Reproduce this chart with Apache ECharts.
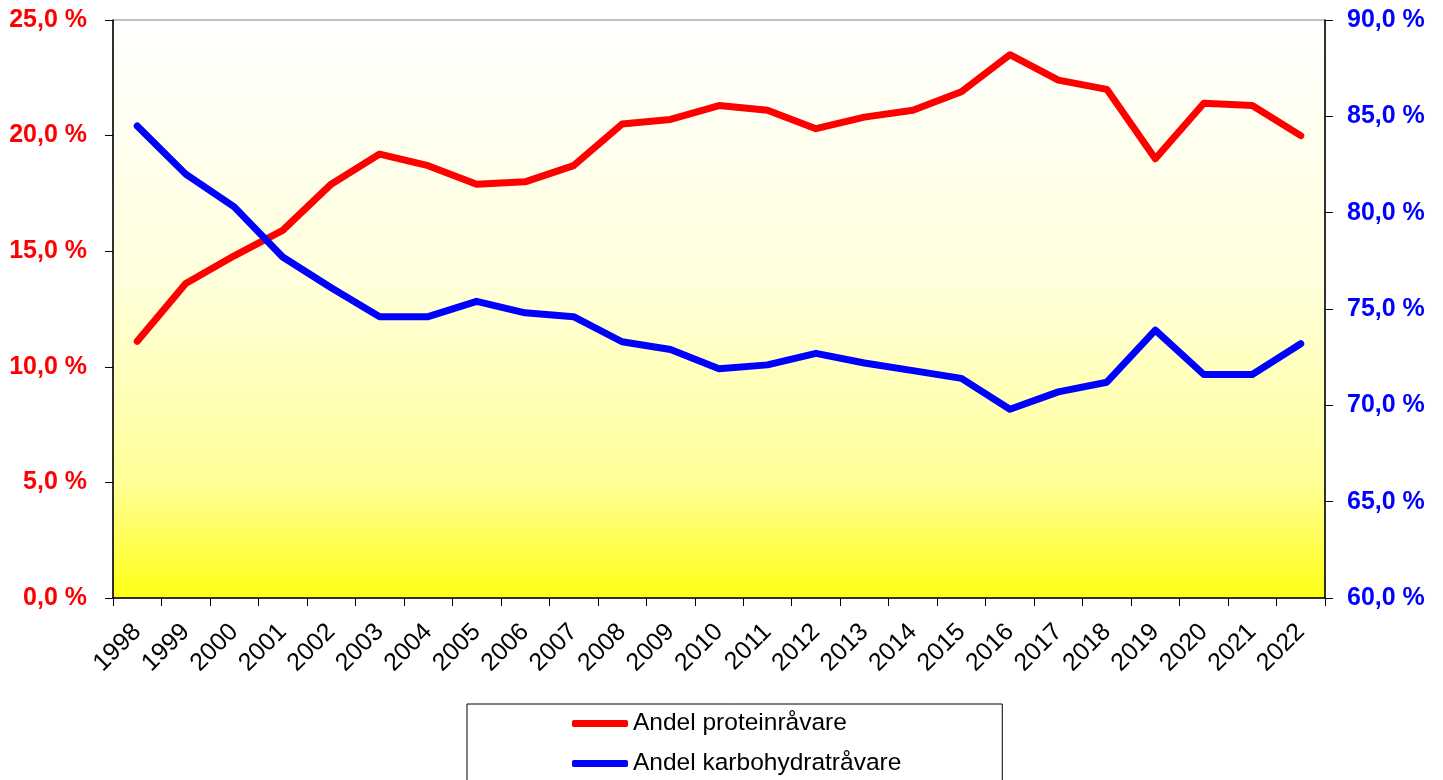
<!DOCTYPE html>
<html>
<head>
<meta charset="UTF-8">
<title>Andel råvarer</title>
<script src="https://cdn.jsdelivr.net/npm/echarts@6/dist/echarts.min.js"></script>
<style>
  html, body { margin: 0; padding: 0; background: #fff; }
  #main { width: 1443px; height: 780px; }
</style>
</head>
<body>
<div id="main"></div>
<script type="text/javascript">
// årstall på x-aksen
const years = ['1998', '1999', '2000', '2001', '2002', '2003', '2004', '2005', '2006', '2007',
  '2008', '2009', '2010', '2011', '2012', '2013', '2014', '2015', '2016', '2017',
  '2018', '2019', '2020', '2021', '2022'];

// venstre akse (%)
const protein = [11.1, 13.6, 14.8, 15.9, 17.9, 19.2, 18.7, 17.9, 18.0, 18.7,
  20.5, 20.7, 21.3, 21.1, 20.3, 20.8, 21.1, 21.9, 23.5, 22.4,
  22.0, 19.0, 21.4, 21.3, 20.0];

// høyre akse (%)
const karbo = [84.5, 82.0, 80.3, 77.7, 76.1, 74.6, 74.6, 75.4, 74.8, 74.6,
  73.3, 72.9, 71.9, 72.1, 72.7, 72.2, 71.8, 71.4, 69.8, 70.7,
  71.2, 73.9, 71.6, 71.6, 73.2];

const seriesNames = ['Andel proteinråvare', 'Andel karbohydratråvare'];

const leftAxis = { min: 0, max: 25, interval: 5 };
const rightAxis = { min: 60, max: 90, interval: 5 };

function pct(v) {
  return v.toFixed(1).replace('.', ',') + ' %';
}

var myChart = echarts.init(document.getElementById('main'));

var option = {
  animation: false,
  textStyle: { fontFamily: 'Liberation Sans, Arial, sans-serif' },
  grid: {
    left: 113, right: 118, top: 20, bottom: 182,
    outerBoundsMode: 'none',
    show: true,
    borderColor: '#808080',
    borderWidth: 1,
    backgroundColor: {
      type: 'linear', x: 0, y: 0, x2: 0, y2: 1,
      colorStops: [
        { offset: 0, color: '#ffffff' },
        { offset: 0.45, color: '#ffffdc' },
        { offset: 0.8, color: '#ffff98' },
        { offset: 1, color: '#ffff14' }
      ]
    }
  },
  legend: {
    left: 467,
    top: 704,
    width: 600,
    height: 150,
    orient: 'vertical',
    data: seriesNames,
    icon: 'roundRect',
    itemWidth: 56,
    itemHeight: 7,
    itemGap: 15,
    padding: [7, 101, 30, 105],
    borderColor: '#000',
    borderWidth: 1,
    backgroundColor: '#fff',
    textStyle: { fontSize: 24.5, lineHeight: 24, color: '#000', fontFamily: 'Liberation Sans' }
  },
  xAxis: {
    type: 'category',
    data: years,
    boundaryGap: true,
    axisLine: { lineStyle: { color: '#000', width: 1.5 } },
    axisTick: { show: true, length: 8, lineStyle: { color: '#000' } },
    axisLabel: {
      rotate: 45,
      interval: 0,
      fontSize: 25,
      color: '#000',
      margin: 30,
      fontFamily: 'Liberation Sans'
    },
    splitLine: { show: false }
  },
  yAxis: [
    {
      type: 'value',
      position: 'left',
      min: leftAxis.min, max: leftAxis.max, interval: leftAxis.interval,
      axisLine: { show: true, lineStyle: { color: '#000', width: 1.5 } },
      axisTick: { show: true, length: 8, lineStyle: { color: '#000' } },
      axisLabel: {
        formatter: pct,
        fontSize: 25, fontWeight: 'bold', color: '#ff0000',
        margin: 26, fontFamily: 'Liberation Sans'
      },
      splitLine: { show: false }
    },
    {
      type: 'value',
      position: 'right',
      min: rightAxis.min, max: rightAxis.max, interval: rightAxis.interval,
      axisLine: { show: true, lineStyle: { color: '#000', width: 1.5 } },
      axisTick: { show: true, length: 8, lineStyle: { color: '#000' } },
      axisLabel: {
        formatter: pct,
        fontSize: 25, fontWeight: 'bold', color: '#0000ff',
        margin: 22, fontFamily: 'Liberation Sans'
      },
      splitLine: { show: false }
    }
  ],
  series: [
    {
      name: seriesNames[0],
      type: 'line',
      yAxisIndex: 0,
      data: protein,
      symbol: 'none',
      color: '#ff0000',
      lineStyle: { width: 7, color: '#ff0000', cap: 'round', join: 'round' }
    },
    {
      name: seriesNames[1],
      type: 'line',
      yAxisIndex: 1,
      data: karbo,
      symbol: 'none',
      color: '#0000ff',
      lineStyle: { width: 7, color: '#0000ff', cap: 'round', join: 'round' }
    }
  ]
};

myChart.setOption(option);
</script>
</body>
</html>
